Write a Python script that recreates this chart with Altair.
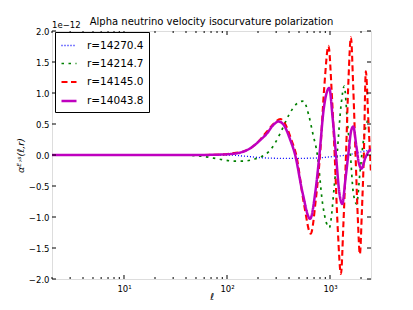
import altair as alt
import pandas as pd

# ---------------- data ----------------
series_labels = ["r=14270.4", "r=14214.7", "r=14145.0", "r=14043.8"]

ell_blue = [2, 10, 50, 100, 150, 250, 400, 700, 1000, 1450, 2000, 2500]
val_blue = [0.0, 0.0, 0.0, 0.0, -0.02, -0.05, -0.055, -0.05, -0.03, 0.0, 0.05, 0.08]

ell_green = [2, 10, 30, 50, 74, 93, 120, 145, 180, 220, 253, 290, 329, 400, 470, 552,
             620, 680, 754, 850, 984, 1100, 1170, 1280, 1375, 1480, 1578, 1680, 1812,
             1950, 2100, 2345, 2500]
val_green = [0.0, 0.0, 0.0, -0.01, -0.05, -0.08, -0.1, -0.1, -0.07, -0.02, 0.05, 0.18,
             0.35, 0.65, 0.82, 0.87, 0.65, 0.35, 0.0, -0.8, -1.17, -0.5, 0.0, 0.8, 1.11,
             0.5, 0.0, -0.6, -0.79, -0.3, 0.2, 0.57, 0.6]

ell_red = [2, 10, 50, 90, 115, 140, 169, 203, 250, 290, 329, 380, 420, 470, 560, 650,
           730, 800, 880, 966, 1040, 1110, 1190, 1277, 1350, 1430, 1510, 1596, 1680,
           1770, 1860, 1950, 2040, 2130, 2228, 2350, 2500]
val_red = [0.0, 0.0, 0.0, 0.01, 0.03, 0.05, 0.11, 0.22, 0.4, 0.52, 0.58, 0.45, 0.25, 0.0,
           -0.8, -1.27, -0.7, 0.0, 1.1, 1.76, 1.0, 0.0, -1.2, -1.92, -1.1, 0.0, 1.2, 1.9,
           1.1, 0.0, -1.0, -1.6, -0.9, 0.0, 1.35, 0.6, -0.3]

ell_mag = [2, 10, 50, 80, 108, 135, 169, 210, 245, 280, 317, 360, 410, 459, 540, 641,
           720, 789, 870, 984, 1060, 1143, 1230, 1316, 1410, 1504, 1600, 1680, 1800,
           1900, 2023, 2200, 2472, 2500]
val_mag = [0.0, 0.0, 0.0, 0.005, 0.015, 0.04, 0.11, 0.24, 0.35, 0.48, 0.54, 0.47, 0.25,
           0.0, -0.6, -1.03, -0.6, 0.0, 0.75, 1.08, 0.6, 0.0, -0.6, -0.79, -0.4, 0.0,
           0.38, 0.46, 0.15, -0.12, -0.22, -0.05, 0.08, 0.08]

x_major = [10, 100, 1000]
x_major_labels = ["10\u00b9", "10\u00b2", "10\u00b3"]
x_minor = [2, 3, 4, 5, 6, 7, 8, 9, 20, 30, 40, 50, 60, 70, 80, 90,
           200, 300, 400, 500, 600, 700, 800, 900, 2000]
y_ticks = [-2.0, -1.5, -1.0, -0.5, 0.0, 0.5, 1.0, 1.5, 2.0]

title_text = "Alpha neutrino velocity isocurvature polarization"
offset_text = "1e\u221212"
x_title = "\u2113"
y_title = "\u03b1\u1d31\u02d2\u02e2(\u2113,r)"

# ---------------- build tables ----------------
rows = []
for lab, ls, vs in zip(series_labels,
                       [ell_blue, ell_green, ell_red, ell_mag],
                       [val_blue, val_green, val_red, val_mag]):
    for l, v in zip(ls, vs):
        rows.append({"series": lab, "ell": l, "val": v})
df = pd.DataFrame(rows)

df_xmaj = pd.DataFrame({"ell": x_major})
df_xmin = pd.DataFrame({"ell": x_minor})
df_y = pd.DataFrame({"val": y_ticks})
df_off = pd.DataFrame({"t": [offset_text]})
df_title = pd.DataFrame({"t": [title_text]})

W, H = 319, 248
FONT = "DejaVu Sans"

label_expr = " : ".join(
    f"datum.value == {v} ? '{t}'" for v, t in zip(x_major, x_major_labels)
) + " : ''"

xscale = alt.Scale(type="log", domain=[2, 2500], nice=False)
yscale = alt.Scale(domain=[-2, 2], nice=False, zero=False)

xaxis = alt.Axis(
    values=x_major, labelExpr=label_expr, ticks=False, domain=False, grid=False,
    labelFontSize=8.5, labelFont=FONT, labelPadding=5, labelColor="black",
    title=x_title, titleFontSize=9.5, titleFont=FONT, titleFontWeight="normal",
    titleFontStyle="italic", titleColor="black",
    titleY=20, titleBaseline="alphabetic")
yaxis = alt.Axis(
    values=y_ticks, format=".1f", ticks=False, domain=False, grid=False,
    labelFontSize=8.5, labelFont=FONT, labelPadding=3, labelColor="black",
    title=y_title, titleFontSize=9.5, titleFont=FONT, titleFontWeight="normal",
    titleFontStyle="italic", titleColor="black",
    titleX=-27, titleY=H / 2, titleAlign="center", titleBaseline="bottom")

leg = alt.Legend(
    title=None, orient="none", legendX=3, legendY=1,
    strokeColor="black", fillColor="white", padding=5, cornerRadius=0,
    symbolType="stroke", symbolSize=225, labelFontSize=10.5, labelFont=FONT,
    labelOffset=9, rowPadding=4, labelColor="black",
)

lines = alt.Chart(df).mark_line(clip=True, interpolate="monotone").encode(
    x=alt.X("ell:Q", scale=xscale, axis=xaxis),
    y=alt.Y("val:Q", scale=yscale, axis=yaxis),
    color=alt.Color("series:N", sort=series_labels, legend=leg,
                    scale=alt.Scale(domain=series_labels,
                                    range=["#0000ff", "#008000", "#ff0000", "#bf00bf"])),
    strokeDash=alt.StrokeDash("series:N", sort=series_labels, legend=leg,
                              scale=alt.Scale(domain=series_labels,
                                              range=[[1, 2], [2.5, 4.5], [6, 3.5], [1, 0]])),
    strokeWidth=alt.StrokeWidth("series:N", sort=series_labels, legend=leg,
                                scale=alt.Scale(domain=series_labels,
                                                range=[1.3, 2.5, 2.8, 2])),
)

def xticks(data, length, top):
    if top:
        return alt.Chart(data).mark_rule(color="black", strokeWidth=1).encode(
            x=alt.X("ell:Q", scale=xscale, axis=xaxis),
            y=alt.value(0), y2=alt.value(length))
    return alt.Chart(data).mark_rule(color="black", strokeWidth=1).encode(
        x=alt.X("ell:Q", scale=xscale, axis=xaxis),
        y=alt.value(H), y2=alt.value(H - length))

def yticks(length, right):
    if right:
        return alt.Chart(df_y).mark_rule(color="black", strokeWidth=1).encode(
            y=alt.Y("val:Q", scale=yscale, axis=yaxis),
            x=alt.value(W), x2=alt.value(W - length))
    return alt.Chart(df_y).mark_rule(color="black", strokeWidth=1).encode(
        y=alt.Y("val:Q", scale=yscale, axis=yaxis),
        x=alt.value(0), x2=alt.value(length))

offset = alt.Chart(df_off).mark_text(
    align="left", baseline="alphabetic", fontSize=8.5, font=FONT, color="black"
).encode(x=alt.value(0), y=alt.value(-3), text="t:N")

title = alt.Chart(df_title).mark_text(
    align="center", baseline="alphabetic", fontSize=10, font=FONT, color="black"
).encode(x=alt.value(W / 2), y=alt.value(-6.5), text="t:N")

chart = alt.layer(
    lines,
    xticks(df_xmaj, 4, False), xticks(df_xmaj, 4, True),
    xticks(df_xmin, 2, False), xticks(df_xmin, 2, True),
    yticks(4, False), yticks(4, True),
    offset, title,
).properties(
    width=W, height=H,
    autosize=alt.AutoSizeParams(type="none"),
    padding={"left": 44, "top": 23, "right": 34, "bottom": 23},
).configure_view(stroke="black", strokeWidth=1).configure(background="white")

chart.save("out.html", embed_options={"renderer": "svg", "actions": False})
